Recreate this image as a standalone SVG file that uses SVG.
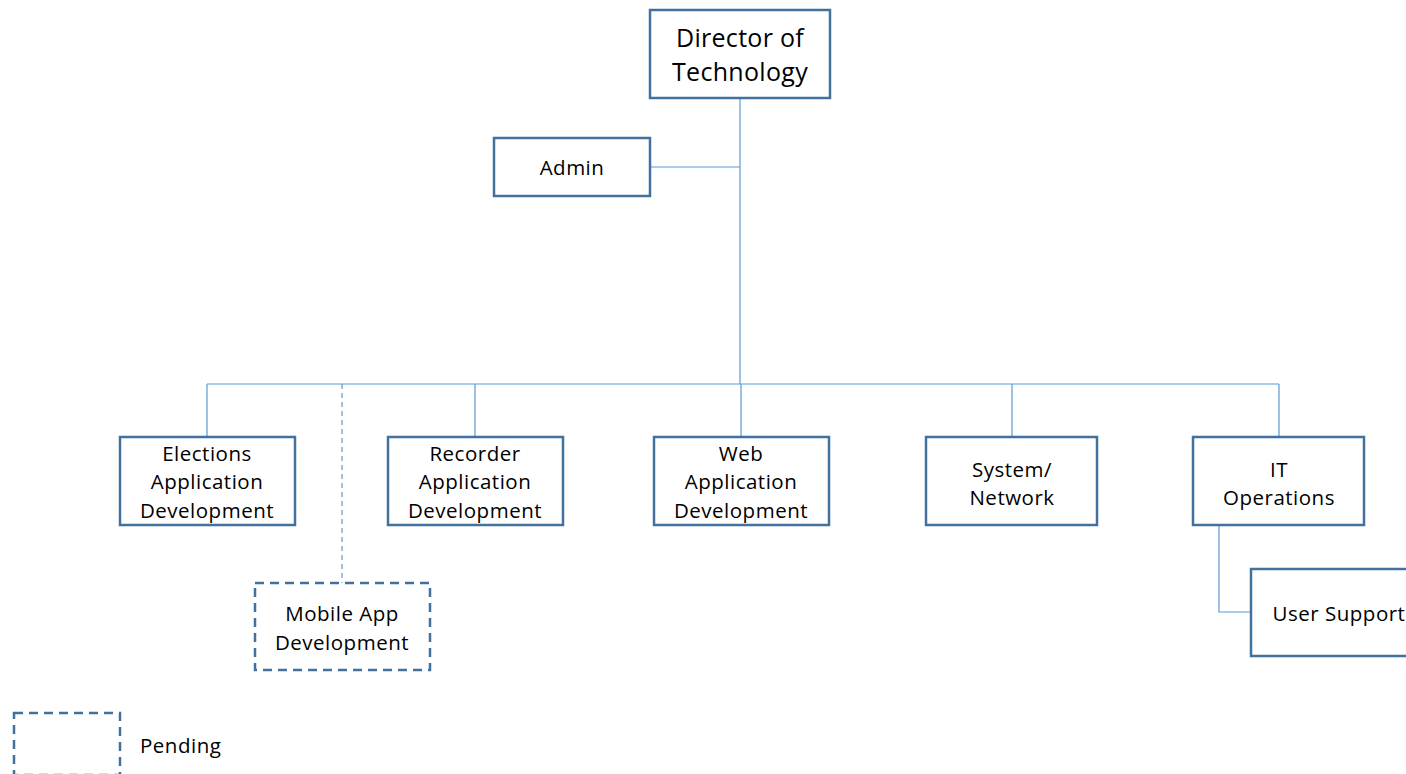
<svg xmlns="http://www.w3.org/2000/svg" width="1406" height="774" viewBox="0 0 1406 774">
<style>
.box{fill:#fff;stroke:#41719C;stroke-width:2.5}
.dash{fill:#fff;stroke:#41719C;stroke-width:2.5;stroke-dasharray:9,6}
.ln{fill:none;stroke:#5B9BD5;stroke-width:1.2}
.lnd{fill:none;stroke:#5B9BD5;stroke-width:1.2;stroke-dasharray:5,4}
text{font-family:"Open Sans","Noto Sans",sans-serif;font-size:20.5px;letter-spacing:0.5px;fill:#000;text-anchor:middle}
.big{font-size:25px;letter-spacing:0.3px}
</style>
<rect width="1406" height="774" fill="#fff"/>
<g id="connectors">
<path class="ln" d="M740,98 V384 M650,167 H740 M207,384 H1279 M207,384 V437 M475,384 V437 M741,384 V437 M1012,384 V437 M1279,384 V437 M1219,525 V612 H1251"/>
<path class="lnd" d="M342,384 V583"/>
</g>
<g id="director"><rect class="box" x="650" y="10" width="180" height="88"/><text class="big" x="740" y="47">Director of</text><text class="big" x="740" y="81">Technology</text></g>
<g id="admin"><rect class="box" x="494" y="138" width="156" height="58"/><text x="572" y="175">Admin</text></g>
<g id="elections"><rect class="box" x="120" y="437" width="175" height="88"/><text x="207" y="461">Elections</text><text x="207" y="489">Application</text><text x="207" y="518">Development</text></g>
<g id="recorder"><rect class="box" x="388" y="437" width="175" height="88"/><text x="475" y="461">Recorder</text><text x="475" y="489">Application</text><text x="475" y="518">Development</text></g>
<g id="web"><rect class="box" x="654" y="437" width="175" height="88"/><text x="741" y="461">Web</text><text x="741" y="489">Application</text><text x="741" y="518">Development</text></g>
<g id="system"><rect class="box" x="926" y="437" width="171" height="88"/><text x="1012" y="477">System/</text><text x="1012" y="505">Network</text></g>
<g id="itops"><rect class="box" x="1193" y="437" width="171" height="88"/><text x="1279" y="477">IT</text><text x="1279" y="505">Operations</text></g>
<g id="mobile"><rect class="dash" x="255" y="583" width="175" height="87"/><text x="342" y="621">Mobile App</text><text x="342" y="650">Development</text></g>
<g id="usersupport"><rect class="box" x="1251" y="569" width="160" height="87"/><text x="1339" y="621">User Support</text></g>
<g id="legend"><rect class="dash" x="14" y="713" width="106" height="62"/><text x="140" y="753" style="text-anchor:start">Pending</text></g>
</svg>
